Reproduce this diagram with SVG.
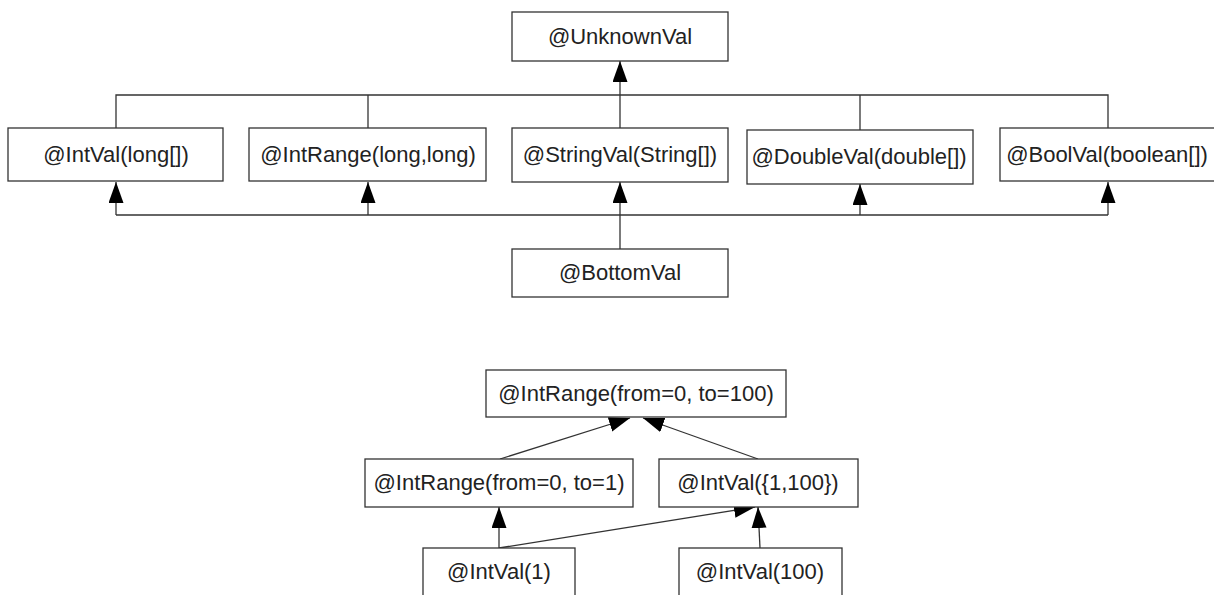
<svg xmlns="http://www.w3.org/2000/svg" width="1214" height="595" viewBox="0 0 1214 595">
  <style>
    .box { fill: #ffffff; stroke: #333333; stroke-width: 1.3; }
    .lbl { font-family: "Liberation Sans", Arial, sans-serif; font-size: 22px; fill: #222222; text-anchor: middle; }
    .edge { fill: none; stroke: #333333; stroke-width: 1.3; }
    .arrow { marker-end: url(#head); }
  </style>
  <defs>
    <marker id="head" markerUnits="userSpaceOnUse" markerWidth="22" markerHeight="16" refX="21" refY="7.5" orient="auto">
      <path d="M0,0 L21,7.5 L0,15 z" fill="#000000"/>
    </marker>
  </defs>

  <rect width="1214" height="595" fill="#ffffff"/>

  <!-- connectors -->
  <g id="connectors">
    <!-- top lattice: upper bus towards @UnknownVal -->
    <path class="edge" d="M116,128 V95 H1108 V128"/>
    <path class="edge" d="M368,128 V95"/>
    <path class="edge" d="M860,130 V95"/>
    <path class="edge arrow" d="M620,128 V61"/>
    <!-- lower bus from @BottomVal -->
    <path class="edge" d="M116,215 H1108"/>
    <path class="edge arrow" d="M620,249 V182"/>
    <path class="edge arrow" d="M116,215 V182"/>
    <path class="edge arrow" d="M368,215 V182"/>
    <path class="edge arrow" d="M860,215 V184"/>
    <path class="edge arrow" d="M1108,215 V182"/>

    <!-- example lattice -->
    <path class="edge arrow" d="M500,459 L630,418"/>
    <path class="edge arrow" d="M758,459 L643,418"/>
    <path class="edge arrow" d="M499,548 V507"/>
    <path class="edge arrow" d="M499,548 L755,507"/>
    <path class="edge arrow" d="M760,548 L758,507"/>
  </g>

  <!-- type hierarchy -->
  <g id="unknownVal">
    <rect class="box" x="512" y="12" width="216" height="49"/>
    <text class="lbl" x="620" y="44">@UnknownVal</text>
  </g>
  <g id="intVal">
    <rect class="box" x="8" y="128" width="215" height="53"/>
    <text class="lbl" x="116" y="162">@IntVal(long[])</text>
  </g>
  <g id="intRange">
    <rect class="box" x="249" y="128" width="237" height="53"/>
    <text class="lbl" x="368" y="162">@IntRange(long,long)</text>
  </g>
  <g id="stringVal">
    <rect class="box" x="512" y="128" width="216" height="54"/>
    <text class="lbl" x="620" y="162">@StringVal(String[])</text>
  </g>
  <g id="doubleVal">
    <rect class="box" x="747" y="130" width="226" height="54"/>
    <text class="lbl" x="859" y="164">@DoubleVal(double[])</text>
  </g>
  <g id="boolVal">
    <rect class="box" x="1000" y="128" width="216" height="53"/>
    <text class="lbl" x="1107" y="162">@BoolVal(boolean[])</text>
  </g>
  <g id="bottomVal">
    <rect class="box" x="512" y="249" width="216" height="48"/>
    <text class="lbl" x="620" y="280">@BottomVal</text>
  </g>

  <!-- example values -->
  <g id="range0to100">
    <rect class="box" x="486" y="370" width="300" height="47"/>
    <text class="lbl" x="636" y="401">@IntRange(from=0, to=100)</text>
  </g>
  <g id="range0to1">
    <rect class="box" x="365" y="459" width="268" height="48"/>
    <text class="lbl" x="499" y="490">@IntRange(from=0, to=1)</text>
  </g>
  <g id="intVal1and100">
    <rect class="box" x="659" y="459" width="199" height="48"/>
    <text class="lbl" x="758" y="490">@IntVal({1,100})</text>
  </g>
  <g id="intVal1">
    <rect class="box" x="423" y="548" width="152" height="49"/>
    <text class="lbl" x="499" y="579">@IntVal(1)</text>
  </g>
  <g id="intVal100">
    <rect class="box" x="679" y="548" width="163" height="49"/>
    <text class="lbl" x="760" y="579">@IntVal(100)</text>
  </g>
</svg>
